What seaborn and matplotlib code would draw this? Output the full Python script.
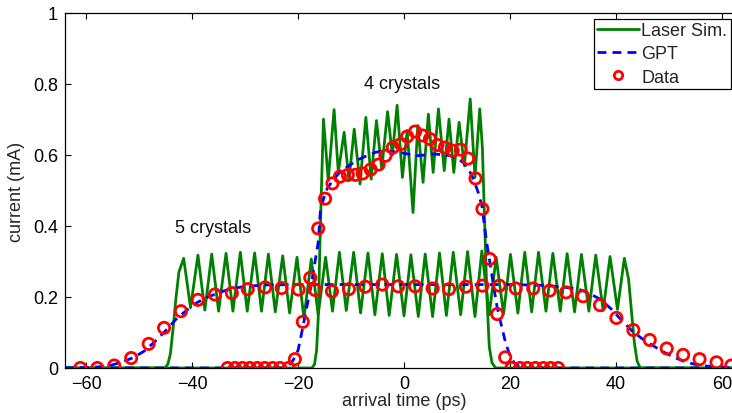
import numpy as np
import pandas as pd
import matplotlib
matplotlib.use("Agg")
import matplotlib.pyplot as plt
from matplotlib.lines import Line2D
import seaborn as sns

# ---------------- data ----------------
# Laser simulation, 5 crystals (edges + oscillation extrema)
sim5_t = [-64.0, -45.2, -44.6, -44.1, -43.6, -43.1, -42.5,
          -41.6, -40.3, -38.9, -37.6, -36.3, -35.0, -33.6, -32.3, -30.9, -29.6,
          -28.2, -26.9, -25.6, -24.3, -22.9, -21.6, -20.2, -18.9, -17.5, -16.2,
          -14.8, -13.5, -12.2, -10.9, -9.5, -8.2, -6.8, -5.5, -4.1, -2.8,
          -1.4, 0.0, 1.3, 2.7, 4.0, 5.4, 6.7, 8.0, 9.3, 10.7,
          12.0, 13.4, 14.7, 16.1, 17.4, 18.8, 20.1, 21.5, 22.8, 24.1,
          25.4, 26.8, 28.1, 29.5, 30.8, 32.2, 33.5, 34.9, 36.2, 37.6,
          38.9, 40.3, 41.6,
          42.4, 43.0, 43.5, 44.0, 44.6, 64.0]
sim5_i = [0.0, 0.0, 0.01, 0.04, 0.11, 0.19, 0.27,
          0.309, 0.170, 0.318, 0.163, 0.321, 0.160, 0.323, 0.160, 0.326, 0.160,
          0.324, 0.160, 0.321, 0.158, 0.316, 0.155, 0.312, 0.140, 0.307, 0.150,
          0.312, 0.160, 0.326, 0.162, 0.326, 0.155, 0.324, 0.150, 0.322, 0.148,
          0.320, 0.147, 0.319, 0.145, 0.321, 0.145, 0.324, 0.148, 0.326, 0.150,
          0.328, 0.145, 0.330, 0.150, 0.312, 0.152, 0.320, 0.155, 0.326, 0.158,
          0.326, 0.160, 0.323, 0.160, 0.322, 0.158, 0.320, 0.160, 0.318, 0.162,
          0.314, 0.165, 0.309,
          0.25, 0.15, 0.07, 0.02, 0.0, 0.0]

# Laser simulation, 4 crystals
sim4_t = [-64.0, -17.4, -16.9, -16.5, -16.2, -15.9, -15.6,
          -15.2, -14.3, -13.2, -12.4, -11.3, -10.4, -9.4, -8.3, -7.2, -6.2,
          -5.2, -4.2, -3.1, -2.2, -1.3, -0.3, 0.6, 1.7, 2.6, 3.6,
          4.6, 5.5, 6.5, 7.6, 8.5, 9.4, 10.4, 11.4, 12.5, 13.4, 14.3,
          14.8, 15.2, 15.7, 16.1, 16.6, 17.3, 64.0]
sim4_i = [0.0, 0.0, 0.01, 0.05, 0.14, 0.33, 0.50,
          0.701, 0.528, 0.728, 0.551, 0.664, 0.528, 0.673, 0.518, 0.706, 0.532,
          0.697, 0.561, 0.722, 0.600, 0.740, 0.537, 0.669, 0.438, 0.683, 0.523,
          0.715, 0.551, 0.730, 0.556, 0.701, 0.551, 0.692, 0.570, 0.758, 0.537, 0.730,
          0.62, 0.42, 0.185, 0.06, 0.015, 0.0, 0.0]

# GPT simulation, 5 crystals
gpt5_t = [-64, -60, -57, -55, -53, -51, -49, -47, -45, -43, -41, -39, -37, -35,
          -33, -30, -26, -20, 20, 26, 30, 33, 35, 37, 39, 41, 43, 45, 47, 49,
          51, 53, 55, 58, 62, 64]
gpt5_i = [0.0, 0.001, 0.004, 0.009, 0.018, 0.030, 0.048, 0.075, 0.105, 0.138,
          0.163, 0.185, 0.200, 0.212, 0.222, 0.230, 0.234, 0.235, 0.235, 0.233,
          0.228, 0.222, 0.210, 0.194, 0.168, 0.136, 0.105, 0.082, 0.063, 0.045,
          0.030, 0.018, 0.010, 0.004, 0.001, 0.0]

# GPT simulation, 4 crystals
gpt4_t = [-64, -23, -22, -21, -20, -19.3, -18.5, -17.7, -16.9, -16.2, -15.8,
          -15.2, -14.5, -13.3, -12.0, -10.2, -8.5, -7.0, -5.5, -4.0, -2.5,
          -0.75, 1.0, 2.4, 4.0, 5.5, 7.0, 8.7, 10.0, 11.2, 12.2, 13.1, 14.0,
          14.7, 15.6, 16.3, 16.9, 17.6, 18.4, 19.2, 20.0, 20.8, 21.7, 23, 64]
gpt4_i = [0.0, 0.0, 0.004, 0.02, 0.05, 0.10, 0.16, 0.22, 0.29, 0.354, 0.44,
          0.476, 0.505, 0.532, 0.553, 0.572, 0.588, 0.598, 0.607, 0.612, 0.610,
          0.607, 0.602, 0.598, 0.600, 0.603, 0.601, 0.598, 0.590, 0.579, 0.560,
          0.532, 0.495, 0.457, 0.354, 0.29, 0.232, 0.17, 0.119, 0.07, 0.035,
          0.015, 0.005, 0.0, 0.0]

# Measured data, 5 crystals
data5_t = [-61.1, -57.9, -54.7, -51.5, -48.2, -45.3, -42.1, -38.9, -35.7, -32.5,
           -29.5, -26.2, -23.1, -19.9, -16.8, -13.6, -10.4, -7.3, -4.1, -1.1,
           2.1, 5.4, 8.5, 11.7, 14.8, 18.0, 21.1, 24.4, 27.5, 30.6,
           33.8, 37.0, 40.1, 43.3, 46.4, 49.6, 52.7, 55.8, 59.0, 61.8]
data5_i = [0.0, 0.0, 0.007, 0.028, 0.068, 0.113, 0.160, 0.192, 0.207, 0.211,
           0.222, 0.227, 0.225, 0.221, 0.220, 0.216, 0.222, 0.229, 0.235, 0.230,
           0.230, 0.224, 0.222, 0.229, 0.232, 0.232, 0.224, 0.224, 0.218, 0.213,
           0.202, 0.177, 0.141, 0.107, 0.079, 0.055, 0.037, 0.025, 0.016, 0.007]

# Measured data, 4 crystals
data4_t = [-33.3, -31.9, -30.5, -29.1, -27.7, -26.3, -24.8, -23.4, -21.8, -20.6,
           -19.1, -17.7, -16.2, -14.9, -13.5, -12.1, -10.6, -9.2, -7.8, -6.3,
           -4.8, -3.5, -2.1, -0.6, 0.6, 2.1, 3.5, 4.9, 6.3, 7.7,
           9.2, 10.7, 12.1, 13.5, 14.8, 16.2, 17.6, 19.1, 20.3, 21.9,
           23.3, 24.8, 26.3, 27.7, 29.1]
data4_i = [0.0, 0.0, 0.0, 0.0, 0.0, 0.0, 0.0, 0.0, 0.0, 0.025,
           0.130, 0.254, 0.393, 0.477, 0.520, 0.539, 0.544, 0.544, 0.548, 0.559,
           0.573, 0.598, 0.621, 0.631, 0.652, 0.666, 0.655, 0.645, 0.628, 0.621,
           0.612, 0.615, 0.590, 0.534, 0.448, 0.307, 0.152, 0.030, 0.0, 0.0,
           0.0, 0.0, 0.0, 0.0, 0.0]

x_ticks = [-60, -40, -20, 0, 20, 40, 60]
y_ticks = [0, 0.2, 0.4, 0.6, 0.8, 1.0]
y_ticklabels = ["0", "0.2", "0.4", "0.6", "0.8", "1"]
legend_labels = ["Laser Sim.", "GPT", "Data"]
annotations = [("5 crystals", -36.0, 0.397), ("4 crystals", -0.4, 0.80)]

# ---------------- styling ----------------
sns.set_theme(style="ticks")
plt.rcParams["font.family"] = ["Liberation Sans", "DejaVu Sans"]
plt.rcParams["axes.unicode_minus"] = True

GREEN = "#008000"
BLUE = "#0000ff"
RED = "#ff0000"

fig = plt.figure(figsize=(7.32, 4.14), dpi=100)
ax = fig.add_axes([65 / 732, 45 / 414, 678 / 732, 355 / 414])

dash = (0, (3.2, 2.2))

sns.lineplot(x=sim5_t, y=sim5_i, ax=ax, color=GREEN, lw=2.0,
             sort=False, estimator=None)
sns.lineplot(x=sim4_t, y=sim4_i, ax=ax, color=GREEN, lw=2.0,
             sort=False, estimator=None)
sns.lineplot(x=gpt5_t, y=gpt5_i, ax=ax, color=BLUE, lw=2.0,
             sort=False, estimator=None, linestyle=dash)
sns.lineplot(x=gpt4_t, y=gpt4_i, ax=ax, color=BLUE, lw=2.0,
             sort=False, estimator=None, linestyle=dash)
for xt, yi in [(data5_t, data5_i), (data4_t, data4_i)]:
    sns.scatterplot(x=xt, y=yi, ax=ax, marker="o", s=66,
                    facecolor="none", edgecolor=RED, linewidth=2.0, zorder=5)

ax.set_xlim(-64, 64)
ax.set_ylim(0, 1)
ax.set_xticks(x_ticks)
ax.set_yticks(y_ticks)
ax.set_yticklabels(y_ticklabels)
ax.tick_params(direction="in", top=True, right=True, length=4, width=0.8,
               labelsize=13, colors="black", pad=5)
for sp in ax.spines.values():
    sp.set_color("black")
    sp.set_linewidth(0.9)

ax.set_xlabel("arrival time (ps)", fontsize=13, labelpad=0)
ax.set_ylabel("current (mA)", fontsize=13, labelpad=6)

for txt, xx, yy in annotations:
    ax.text(xx, yy, txt, fontsize=13, ha="center", va="center", color="#111111")

handles = [
    Line2D([], [], color=GREEN, lw=2.0),
    Line2D([], [], color=BLUE, lw=2.0, linestyle=dash),
    Line2D([], [], color=RED, lw=0, marker="o", markersize=6,
           markerfacecolor="none", markeredgewidth=2.0),
]
leg = ax.legend(handles, legend_labels, loc="upper left",
                bbox_to_anchor=(0.780, 0.983), fontsize=13, frameon=True,
                fancybox=False, shadow=False, framealpha=1, edgecolor="black",
                borderpad=0.18, labelspacing=0.34, handlelength=2.3,
                handletextpad=0.15, borderaxespad=0)
leg.get_frame().set_linewidth(0.9)

fig.savefig("out.png", dpi=100)
